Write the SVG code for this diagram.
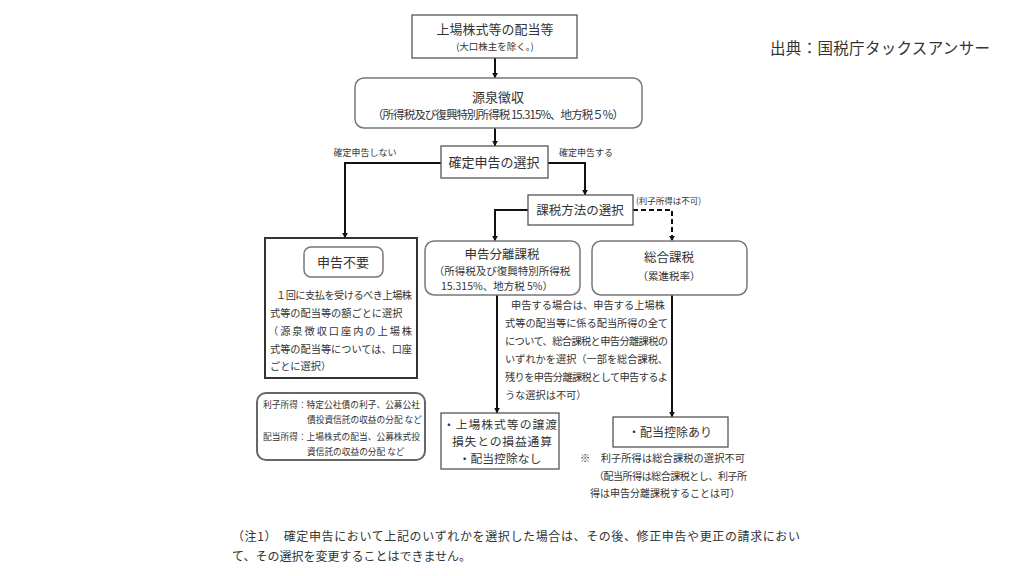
<svg xmlns="http://www.w3.org/2000/svg" width="1024" height="576" viewBox="0 0 1024 576">
<defs>
<marker id="arr" viewBox="0 0 10 10" refX="9" refY="5" markerWidth="6" markerHeight="6" markerUnits="userSpaceOnUse" orient="auto"><path d="M0,0 L10,5 L0,10 z" fill="#111"/></marker>
<style>
text{font-family:"Noto Sans CJK JP","Noto Sans",sans-serif;fill:#333}
.box{fill:#fff;stroke:#555;stroke-width:1.3}
.rbox{fill:#fff;stroke:#777;stroke-width:1.5}
.line{fill:none;stroke:#111;stroke-width:2}
.dash{fill:none;stroke:#111;stroke-width:2;stroke-dasharray:5,3}
.c{text-anchor:middle}
</style>
</defs>
<rect width="1024" height="576" fill="#fff"/>
<text x="770" y="54" font-size="15.5" textLength="220">出典：国税庁タックスアンサー</text>

<g id="connectors">
<path class="line" d="M495 58 V78" marker-end="url(#arr)"/>
<path class="line" d="M495 128 V146" marker-end="url(#arr)"/>
<path class="line" d="M441 163 H345 V238" marker-end="url(#arr)"/>
<path class="line" d="M548 163 H585 V195" marker-end="url(#arr)"/>
<path class="line" d="M528 210 H495 V241" marker-end="url(#arr)"/>
<path class="dash" d="M633 210 H672 V241" marker-end="url(#arr)"/>
<path class="line" d="M497 295 V413" marker-end="url(#arr)"/>
<path class="line" d="M672 295 V417" marker-end="url(#arr)"/>
<text x="365" y="156" font-size="9" class="c">確定申告しない</text>
<text x="586" y="156" font-size="9" class="c">確定申告する</text>
<text x="636" y="204" font-size="8.5">(利子所得は不可)</text>
</g>

<g id="top">
<rect class="box" x="412" y="15" width="165" height="43"/>
<text x="495" y="34" font-size="13" class="c">上場株式等の配当等</text>
<text x="495" y="50" font-size="9.5" class="c">(大口株主を除く。)</text>
</g>

<g id="gensen">
<rect class="rbox" x="355" y="78" width="287" height="50" rx="9"/>
<text x="498" y="102" font-size="13" class="c">源泉徴収</text>
<text x="498" y="119" font-size="11.5" class="c" textLength="252">（所得税及び復興特別所得税 15.315%、地方税５%）</text>
</g>

<g id="kakutei">
<rect class="box" x="441" y="146" width="107" height="32"/>
<text x="494" y="167" font-size="13" class="c">確定申告の選択</text>
</g>

<g id="kazei">
<rect class="box" x="528" y="195" width="105" height="30"/>
<text x="580" y="215" font-size="12.5" class="c">課税方法の選択</text>
</g>

<g id="fuyou">
<rect x="265" y="238" width="152" height="140" fill="#fff" stroke="#333" stroke-width="2"/>
<rect class="rbox" x="304" y="247" width="79" height="30" rx="7"/>
<text x="343" y="267" font-size="13" class="c">申告不要</text>
<text x="276" y="299" font-size="10.2" textLength="136">１回に支払を受けるべき上場株</text>
<text x="270" y="317" font-size="10.2">式等の配当等の額ごとに選択</text>
<text x="268" y="335" font-size="10.2" textLength="144">（源泉徴収口座内の上場株</text>
<text x="270" y="353" font-size="10.2" textLength="142">式等の配当等については、口座</text>
<text x="270" y="370" font-size="10.2">ごとに選択）</text>
</g>

<g id="bunri">
<rect class="rbox" x="425" y="241" width="155" height="54" rx="9"/>
<text x="502" y="259" font-size="12.5" class="c">申告分離課税</text>
<text x="502" y="275" font-size="10.5" class="c">（所得税及び復興特別所得税</text>
<text x="497" y="290" font-size="10.5" class="c">15.315%、地方税 5%）</text>
</g>

<g id="sogo">
<rect class="rbox" x="592" y="241" width="155" height="54" rx="9"/>
<text x="669" y="262" font-size="12.5" class="c">総合課税</text>
<text x="669" y="280" font-size="10.5" class="c">（累進税率）</text>
</g>

<g id="explain">
<text x="511" y="309" font-size="10.2" textLength="154">申告する場合は、申告する上場株</text>
<text x="505" y="327" font-size="10.2" textLength="163">式等の配当等に係る配当所得の全て</text>
<text x="505" y="345" font-size="10.2" textLength="163">について、総合課税と申告分離課税の</text>
<text x="505" y="363" font-size="10.2" textLength="163">いずれかを選択（一部を総合課税、</text>
<text x="505" y="381" font-size="10.2" textLength="163">残りを申告分離課税として申告するよ</text>
<text x="505" y="399" font-size="10.2">うな選択は不可）</text>
</g>

<g id="legend">
<rect x="257" y="393" width="168" height="67" rx="9" fill="#fff" stroke="#666" stroke-width="2"/>
<text x="263" y="408" font-size="8.7" textLength="157">利子所得：特定公社債の利子、公募公社</text>
<text x="307" y="423" font-size="8.7">債投資信託の収益の分配 など</text>
<text x="263" y="440" font-size="8.7" textLength="157">配当所得：上場株式の配当、公募株式投</text>
<text x="307" y="455" font-size="8.7">資信託の収益の分配 など</text>
</g>

<g id="tsusan">
<rect class="box" x="441" y="413" width="118" height="56"/>
<text x="443" y="429" font-size="11.8" textLength="114">・上場株式等の譲渡</text>
<text x="452" y="446" font-size="11.8" textLength="100">損失との損益通算</text>
<text x="500" y="463" font-size="11.8" class="c">・配当控除なし</text>
</g>

<g id="koujo">
<rect class="box" x="613" y="417" width="115" height="30"/>
<text x="670" y="437" font-size="12" class="c">・配当控除あり</text>
</g>

<g id="note2">
<text x="580" y="462" font-size="10.2" textLength="165">※　利子所得は総合課税の選択不可</text>
<text x="594" y="480" font-size="10" textLength="153">（配当所得は総合課税とし、利子所</text>
<text x="590" y="497" font-size="10">得は申告分離課税することは可）</text>
</g>

<g id="footnote">
<text x="232" y="541" font-size="12" textLength="568">（注1）　確定申告において上記のいずれかを選択した場合は、その後、修正申告や更正の請求におい</text>
<text x="232" y="561" font-size="12">て、その選択を変更することはできません。</text>
</g>
</svg>
